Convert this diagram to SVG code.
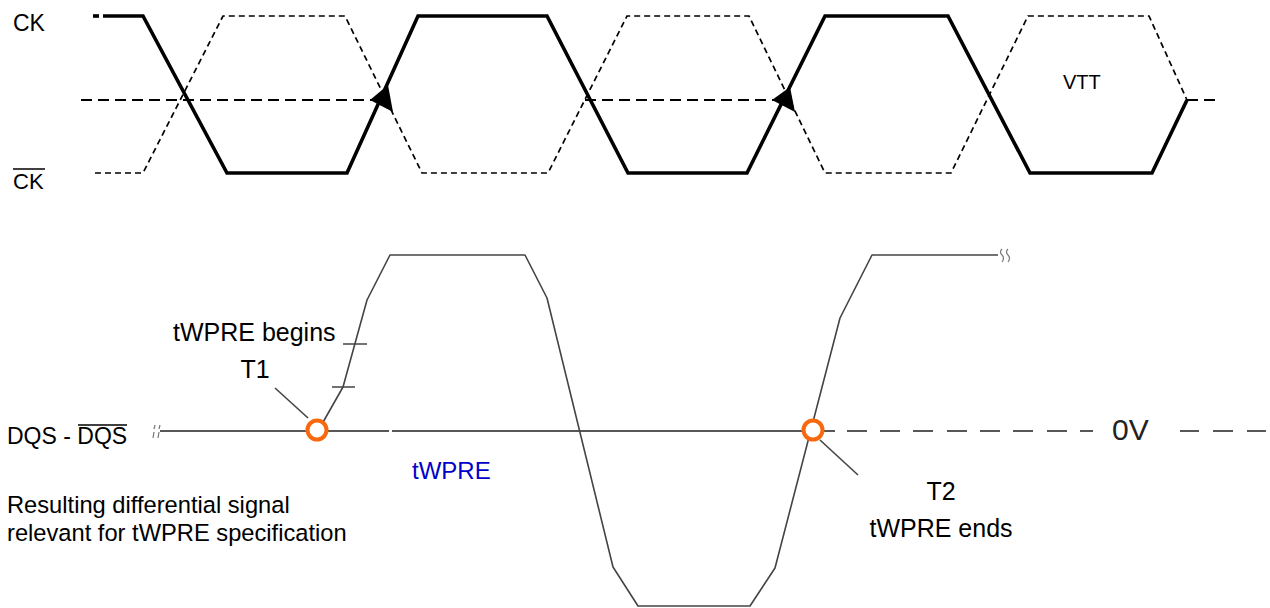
<svg xmlns="http://www.w3.org/2000/svg" width="1270" height="608" viewBox="0 0 1270 608">
<style>
.lbl{font-family:"Liberation Sans",Arial,sans-serif;fill:#000}
.ck{fill:none;stroke:#000;stroke-width:3.6;stroke-linejoin:miter}
.ckb{fill:none;stroke:#000;stroke-width:1.7;stroke-dasharray:6 4}
.vtt{fill:none;stroke:#000;stroke-width:2;stroke-dasharray:11 6}
.wave{fill:none;stroke:#444;stroke-width:1.6;stroke-linejoin:round}
.base{fill:none;stroke:#222;stroke-width:1.6}
.lead{fill:none;stroke:#444;stroke-width:1.6}
.pt{fill:#fff;stroke:#F7680F;stroke-width:4}
.brk{fill:none;stroke:#777;stroke-width:1.2}
</style>
<rect width="1270" height="608" fill="#fff"/>

<g id="vtt-line">
  <path class="vtt" d="M81 100 H372"/>
  <path class="vtt" d="M585 100 H774"/>
  <path class="vtt" d="M1187 100 H1220"/>
</g>

<g id="ck-bar">
  <path class="ckb" d="M95 173 H143 L223 16 H345 L422 173 H548 L627 16 H749 L825 173 H951 L1028 16 H1149 L1187 100"/>
</g>

<g id="ck">
  <path class="ck" d="M93 16 H99"/>
  <path class="ck" d="M103 16 H143 L227 173 H347 L418 16 H547 L628 173 H747 L825 16 H948 L1030 173 H1152 L1187 100"/>
</g>

<g id="arrows">
  <polygon points="370,100 388,85 393,112" fill="#000"/>
  <polygon points="772,100 790,87 795,112" fill="#000"/>
</g>

<g id="top-labels">
  <text class="lbl" x="13" y="31" font-size="23">CK</text>
  <text class="lbl" x="13" y="189" font-size="22">CK</text>
  <line x1="13" y1="169" x2="45" y2="169" stroke="#000" stroke-width="1.5"/>
  <text class="lbl" x="1063" y="89" font-size="20">VTT</text>
</g>

<g id="dqs-baseline">
  <path class="base" d="M160 431 H389 M392 431 H808"/>
  <path class="base" d="M823 431 H835 M847 431 H867 M880 431 H900 M913 431 H933 M947 431 H967 M980 431 H1000 M1013 431 H1033 M1047 431 H1067 M1080 431 H1093 M1180 431 H1199 M1213 431 H1233 M1247 431 H1266"/>
  <path class="brk" d="M155 425 L154 429 M154 432 L153 438 M160 425 L159 429 M159 432 L158 438"/>
</g>

<g id="dqs-wave">
  <path class="wave" d="M322 424 L343 387 L367 300 L390 255 H525 L547 298 L613 567 L638 606 H750 L775 568 L840 318 L872 255 H998"/>
  <path class="brk" d="M1002 249 Q999 252 1002 255 Q1005 258 1002 262 M1008 249 Q1005 252 1008 255 Q1011 258 1008 262"/>
  <path class="lead" d="M343 344 H367 M332 387 H355"/>
</g>

<g id="connectors">
  <path class="lead" d="M275 388 L308 418"/>
  <path class="lead" d="M820 440 L858 475"/>
</g>

<g id="t1">
  <circle class="pt" cx="317" cy="430" r="9.5"/>
  <text class="lbl" x="173" y="341" font-size="25">tWPRE begins</text>
  <text class="lbl" x="255" y="378" font-size="25" text-anchor="middle">T1</text>
</g>

<g id="t2">
  <circle class="pt" cx="813" cy="430" r="9.5"/>
  <text class="lbl" x="941" y="500" font-size="25" text-anchor="middle">T2</text>
  <text class="lbl" x="941" y="537" font-size="25" text-anchor="middle">tWPRE ends</text>
</g>

<g id="bottom-labels">
  <text class="lbl" x="7" y="444" font-size="23">DQS - DQS</text>
  <line x1="78" y1="425" x2="127" y2="425" stroke="#000" stroke-width="1.5"/>
  <text class="lbl" x="7" y="513" font-size="23.7">Resulting differential signal</text>
  <text class="lbl" x="7" y="541" font-size="23.7">relevant for tWPRE specification</text>
  <text class="lbl" x="412" y="479" font-size="24" style="fill:#0000C8">tWPRE</text>
  <text class="lbl" x="1112" y="440" font-size="30" style="fill:#222">0V</text>
</g>
</svg>
